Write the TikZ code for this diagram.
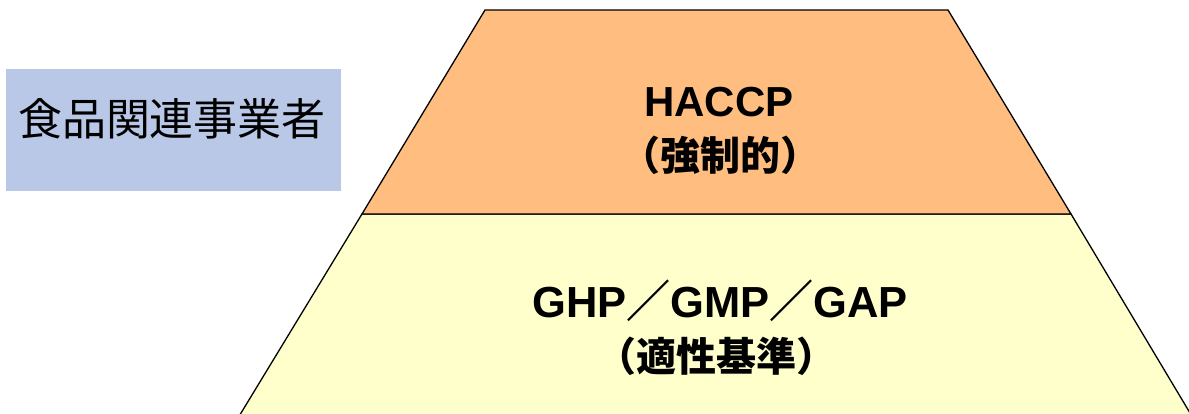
\documentclass[tikz,border=0pt]{standalone}
\usepackage{fontspec}
\setmainfont{Liberation Sans}
\newfontfamily\cjk{Noto Sans CJK JP}
\definecolor{toporange}{HTML}{FFBE80}
\definecolor{baseyellow}{HTML}{FFFFCC}
\definecolor{boxblue}{HTML}{B8C8E6}
\tikzset{
  tier/.style={draw=black, line width=1.3pt, line join=miter},
  lbl/.style={inner sep=0pt, font=\fontsize{42}{48}\selectfont\bfseries, text=black},
}
\begin{document}
\begin{tikzpicture}[x=1pt,y=-1pt]
\useasboundingbox (0,0) rectangle (1189,414);
\clip (0,0) rectangle (1189,414);
% blue box
\fill[boxblue] (6,69) rectangle (341,191);
\node[inner sep=0pt, font=\cjk\fontsize{44}{50}\selectfont] (actor) at (172,119) {食品関連事業者};
% pyramid tiers
\path[tier, fill=baseyellow] (362,214) -- (1071,214) -- (1193,418) -- (238,418) -- cycle;
\path[tier, fill=toporange] (485,10) -- (948,10) -- (1071,214) -- (362,214) -- cycle;
% labels
\node[lbl] (haccp) at (719,102) {HACCP};
\node[lbl, font=\fontsize{40}{48}\selectfont\bfseries] (haccpj) at (720,155) {\cjk\bfseries（強制的）};
\node[lbl, font=\fontsize{43.5}{48}\selectfont\bfseries] (ghp) at (720,301) {GHP{\cjk\bfseries\fontsize{44}{48}\selectfont ／}GMP{\cjk\bfseries\fontsize{44}{48}\selectfont ／}GAP};
\node[lbl, font=\fontsize{40}{48}\selectfont\bfseries] (ghpj) at (716,356) {\cjk\bfseries（適性基準）};
\end{tikzpicture}
\end{document}
